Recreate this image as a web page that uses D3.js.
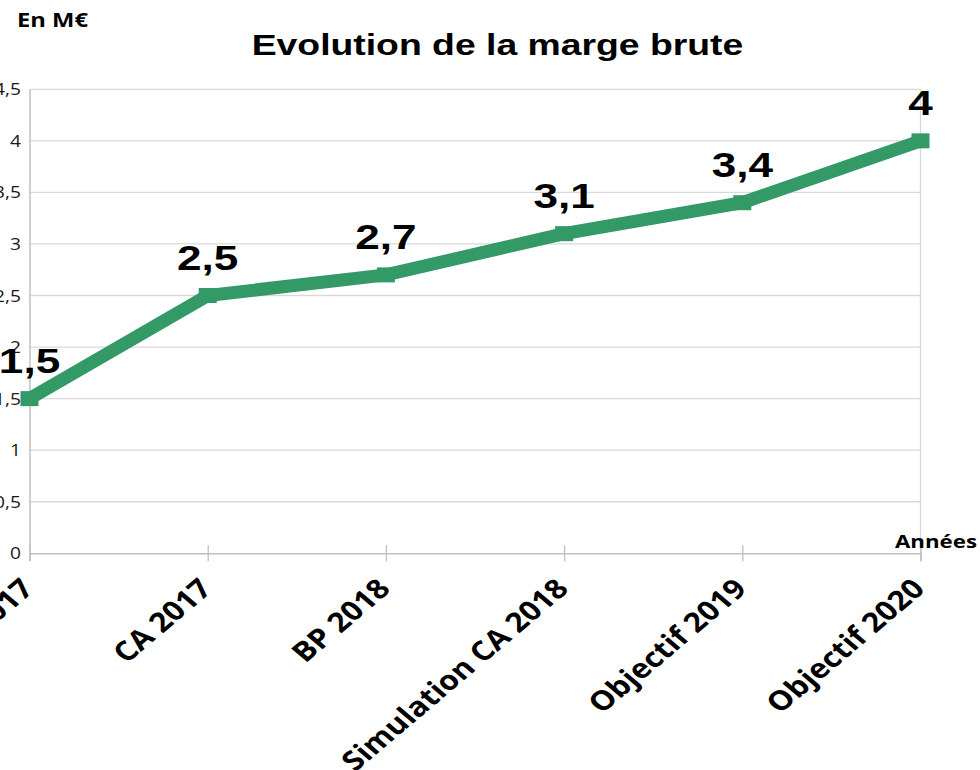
<!DOCTYPE html>
<html>
<head>
<meta charset="utf-8">
<script src="https://cdn.jsdelivr.net/npm/d3@7"></script>
<style>
  html, body { margin: 0; padding: 0; background: #fff; }
  svg { display: block; }
</style>
</head>
<body>
<svg id="chart" width="980" height="770"></svg>
<script>
const categories = ["BP 2017", "CA 2017", "BP 2018", "Simulation CA 2018", "Objectif 2019", "Objectif 2020"];
const values = [1.5, 2.5, 2.7, 3.1, 3.4, 4];
const yTicks = [0, 0.5, 1, 1.5, 2, 2.5, 3, 3.5, 4, 4.5];
const titleText = "Evolution de la marge brute";
const yUnitText = "En M€";
const xAxisText = "Années";

const svg = d3.select("#chart");
const W = 980, H = 770;
const margin = { left: 29.5, right: 980 - 920.5, top: 89.3, bottom: 770 - 553.3 };
const S = 1.26; // horizontal stretch of the original picture

const x = d3.scalePoint().domain(categories).range([margin.left, W - margin.right]).padding(0);
const y = d3.scaleLinear().domain([0, 4.5]).range([H - margin.bottom, margin.top]);
const fmt = v => String(v).replace(".", ",");

// gridlines
svg.append("g")
  .selectAll("line")
  .data(yTicks.filter(d => d > 0))
  .join("line")
  .attr("x1", margin.left).attr("x2", W - margin.right)
  .attr("y1", d => y(d)).attr("y2", d => y(d))
  .attr("stroke", "#d9d9d9").attr("stroke-width", 1.3);

// right border
svg.append("line")
  .attr("x1", W - margin.right).attr("x2", W - margin.right)
  .attr("y1", y(4.5)).attr("y2", y(0))
  .attr("stroke", "#d9d9d9").attr("stroke-width", 1.3);

// x axis
const xAxis = d3.axisBottom(x).tickSize(8).tickFormat("");
const gx = svg.append("g").attr("transform", `translate(0,${y(0)})`).call(xAxis);
gx.select(".domain").attr("stroke", "#bfbfbf").attr("stroke-width", 1.5);
gx.selectAll(".tick line").attr("stroke", "#bfbfbf").attr("stroke-width", 1.3).attr("y1", -8).attr("y2", 8);

// y axis line
const yAxis = d3.axisLeft(y).tickValues(yTicks).tickSize(0).tickFormat("");
const gy = svg.append("g").attr("transform", `translate(${margin.left},0)`).call(yAxis);
gy.select(".domain").attr("stroke", "#bfbfbf").attr("stroke-width", 1.5);

// y tick labels
svg.append("g")
  .selectAll("text")
  .data(yTicks)
  .join("text")
  .attr("transform", d => `translate(21,${y(d)}) scale(1.2,1)`)
  .attr("text-anchor", "end")
  .attr("dy", "0.38em")
  .attr("font-family", "'Open Sans', sans-serif")
  .attr("font-size", 16)
  .attr("fill", "#1a1a1a")
  .text(d => fmt(d));

// category labels
svg.append("g")
  .selectAll("text")
  .data(categories)
  .join("text")
  .attr("transform", d => `translate(${x(d) + 6},${y(0) + 37}) scale(1.18,1) rotate(-45)`)
  .attr("text-anchor", "end")
  .attr("font-family", "'Open Sans', sans-serif")
  .attr("font-weight", "bold")
  .attr("font-size", 27)
  .attr("fill", "#000")
  .text(d => d);

// line
const line = d3.line().x((d, i) => x(categories[i])).y(d => y(d));
svg.append("path")
  .datum(values)
  .attr("d", line)
  .attr("fill", "none")
  .attr("stroke", "#339966")
  .attr("stroke-width", 13)
  .attr("stroke-linejoin", "miter");

// markers
svg.append("g")
  .selectAll("rect")
  .data(values)
  .join("rect")
  .attr("x", (d, i) => x(categories[i]) - 9)
  .attr("y", d => y(d) - 7.5)
  .attr("width", 18)
  .attr("height", 15)
  .attr("fill", "#339966");

// data labels
svg.append("g")
  .selectAll("text")
  .data(values)
  .join("text")
  .attr("transform", (d, i) => `translate(${x(categories[i])},${y(d) - 25.5}) scale(${S},1)`)
  .attr("text-anchor", "middle")
  .attr("font-family", "'Liberation Sans', Arial, sans-serif")
  .attr("font-weight", "bold")
  .attr("font-size", 35)
  .attr("fill", "#000")
  .text(d => fmt(d));

// title
svg.append("text")
  .attr("transform", `translate(497.5,55) scale(1.245,1)`)
  .attr("text-anchor", "middle")
  .attr("font-family", "'Liberation Sans', Arial, sans-serif")
  .attr("font-weight", "bold")
  .attr("font-size", 30)
  .attr("fill", "#000")
  .text(titleText);

// unit label
svg.append("text")
  .attr("x", 17).attr("y", 26.7)
  .attr("textLength", 71).attr("lengthAdjust", "spacingAndGlyphs")
  .attr("font-family", "'Open Sans', sans-serif")
  .attr("font-weight", "bold")
  .attr("font-size", 19)
  .attr("fill", "#000")
  .text(yUnitText);

// axis name
svg.append("text")
  .attr("x", 895).attr("y", 548.3)
  .attr("textLength", 82).attr("lengthAdjust", "spacingAndGlyphs")
  .attr("font-family", "'Open Sans', sans-serif")
  .attr("font-weight", "bold")
  .attr("font-size", 17)
  .attr("fill", "#000")
  .text(xAxisText);
</script>
</body>
</html>
